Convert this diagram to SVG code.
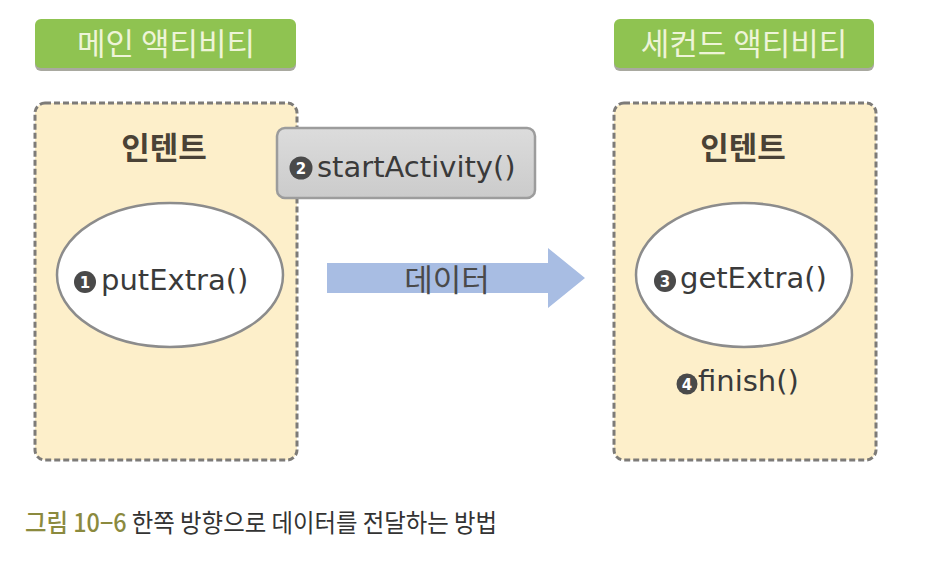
<svg xmlns="http://www.w3.org/2000/svg" width="926" height="584" viewBox="0 0 926 584">
<defs>
<linearGradient id="gbox" x1="0" y1="0" x2="0" y2="1">
<stop offset="0" stop-color="#dcdcdc"/><stop offset="1" stop-color="#cbcbcb"/>
</linearGradient>
<style>
.lbl{fill:#8fc351}
.lblsh{fill:#a9a9a0}
.lbltxt{font-family:"Noto Sans CJK KR",sans-serif;font-size:31px;fill:#eef4d8;text-anchor:middle}
.cont{fill:#fdefca;stroke:#7d7b78;stroke-width:3;stroke-dasharray:6 3}
.ktitle{font-family:"Noto Sans CJK KR",sans-serif;font-size:31px;font-weight:bold;fill:#4a4236;text-anchor:middle}
.oval{fill:#ffffff;stroke:#8c8c8c;stroke-width:2.5}
.mtxt{font-family:"DejaVu Sans",sans-serif;font-size:29px;fill:#3a3a3a}
.num{fill:#4a4a4a}
.numtxt{font-family:"DejaVu Sans",sans-serif;font-size:15px;font-weight:bold;fill:#ffffff;text-anchor:middle}
.cap1{font-family:"Noto Sans CJK KR",sans-serif;font-size:25px;font-weight:500;fill:#8b8a3e}
.cap2{font-family:"Noto Sans CJK KR",sans-serif;font-size:25px;fill:#333333}
</style>
</defs>
<rect width="926" height="584" fill="#ffffff"/>

<g id="main-label">
<rect class="lblsh" x="35" y="21" width="261" height="50" rx="6"/>
<rect class="lbl" x="35" y="19" width="261" height="49" rx="6"/>
<text class="lbltxt" x="166" y="55">메인 액티비티</text>
</g>

<g id="second-label">
<rect class="lblsh" x="614" y="21" width="260" height="50" rx="6"/>
<rect class="lbl" x="614" y="19" width="260" height="49" rx="6"/>
<text class="lbltxt" x="744" y="55">세컨드 액티비티</text>
</g>

<g id="main-intent">
<rect class="cont" x="35" y="103" width="262" height="357" rx="10"/>
<text class="ktitle" x="164" y="159">인텐트</text>
<g id="putExtra">
<ellipse class="oval" cx="170" cy="275" rx="113" ry="72"/>
<circle class="num" cx="85" cy="282" r="11"/>
<text class="numtxt" x="85" y="287.5">1</text>
<text class="mtxt" x="101" y="290">putExtra()</text>
</g>
</g>

<g id="second-intent">
<rect class="cont" x="614" y="103" width="262" height="357" rx="10"/>
<text class="ktitle" x="743" y="159">인텐트</text>
<g id="getExtra">
<ellipse class="oval" cx="744" cy="275" rx="108" ry="72"/>
<circle class="num" cx="665" cy="281" r="11"/>
<text class="numtxt" x="665" y="286.5">3</text>
<text class="mtxt" x="680" y="288">getExtra()</text>
</g>
<g id="finish">
<circle class="num" cx="687" cy="384" r="10.5"/>
<text class="numtxt" x="687" y="389.5">4</text>
<text class="mtxt" x="698" y="391">finish()</text>
</g>
</g>

<g id="connectors">
<polygon points="327,263 548,263 548,248 585,278 548,308 548,293 327,293" fill="#a8bde3"/>
<text x="447" y="291" font-family="'Noto Sans CJK KR',sans-serif" font-size="31" fill="#4a4a4a" text-anchor="middle">데이터</text>
</g>

<g id="startActivity">
<rect x="277" y="128" width="258" height="70" rx="8" fill="url(#gbox)" stroke="#9c9c9c" stroke-width="2.5"/>
<circle class="num" cx="301" cy="168" r="11.5"/>
<text class="numtxt" x="301" y="173.5">2</text>
<text class="mtxt" x="317" y="177">startActivity()</text>
</g>

<g id="caption">
<text x="25" y="532" textLength="472" lengthAdjust="spacingAndGlyphs"><tspan class="cap1">그림 10−6</tspan><tspan class="cap2"> 한쪽 방향으로 데이터를 전달하는 방법</tspan></text>
</g>
</svg>
